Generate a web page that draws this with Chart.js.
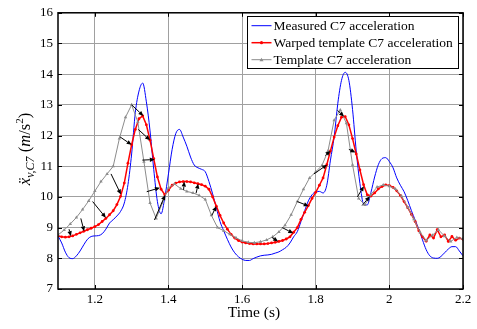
<!DOCTYPE html>
<html>
<head>
<meta charset="utf-8">
<script src="https://cdn.jsdelivr.net/npm/chart.js@4.4.1/dist/chart.umd.min.js"></script>
<style>
  html, body { margin: 0; padding: 0; background: #fff; }
  canvas { display: block; }
</style>
</head>
<body>
<canvas id="chart" width="477" height="329"></canvas>
<script>
// time base (s)
var tStart = 1.1;
var fineStep = 0.01;      // measured + warped samples
var templateStep = 1 / 60; // template samples

var xTickValues = [1.2, 1.4, 1.6, 1.8, 2.0, 2.2];
var yTickValues = [7, 8, 9, 10, 11, 12, 13, 14, 15, 16];

// C7 acceleration (m/s^2), 1.10 .. 2.20 s
var measured = [
  8.73, 8.5, 8.2, 8.02, 7.99, 8.08, 8.24, 8.44, 8.62, 8.71,
  8.73, 8.74, 8.8, 8.95, 9.15, 9.26, 9.38, 9.53, 9.8, 10.4,
  11.4, 12.75, 13.45, 13.71, 13.1, 12.15, 10.9, 9.85, 9.45, 9.98,
  10.75, 11.55, 12.07, 12.2, 11.95, 11.65, 11.3, 11.04, 10.95, 10.9,
  10.82, 10.5, 10.1, 9.65, 9.2, 8.9, 8.62, 8.37, 8.18, 8.05,
  7.97, 7.93, 7.93, 7.99, 8.04, 8.08, 8.1, 8.11, 8.13, 8.17,
  8.21, 8.28, 8.36, 8.5, 8.7, 8.87, 9.2, 9.55, 9.87, 10.07,
  10.17, 10.18, 10.13, 10.38, 11.2, 11.95, 13.05, 13.8, 14.06, 13.8,
  12.85, 11.5, 10.44, 9.77, 9.74, 10.15, 10.65, 11.05, 11.25, 11.28,
  11.15, 10.95, 10.62, 10.38, 10.17, 9.88, 9.55, 9.25, 8.95, 8.6,
  8.28, 8.08, 8.01, 8.0, 8.06, 8.18, 8.3, 8.38, 8.38, 8.24,
  8.08
];

var warped = [
  8.73, 8.7, 8.69, 8.7, 8.73, 8.78, 8.83, 8.88, 8.93, 8.98,
  9.03, 9.1, 9.2, 9.3, 9.42, 9.55, 9.75, 10.02, 10.45, 11.1,
  11.7, 12.2, 12.55, 12.64, 12.35, 11.85, 11.25, 10.65, 10.25, 10.07,
  10.22, 10.38, 10.45, 10.49, 10.5, 10.5, 10.49, 10.46, 10.43, 10.4,
  10.35, 10.25, 10.0, 9.7, 9.4, 9.15, 8.95, 8.78, 8.66, 8.58,
  8.53, 8.5, 8.48, 8.47, 8.47, 8.47, 8.47, 8.48, 8.5, 8.52,
  8.55, 8.58, 8.63, 8.7, 8.85, 9.0, 9.27, 9.5, 9.72, 9.95,
  10.15, 10.38, 10.62, 11.05, 11.5, 11.95, 12.32, 12.6, 12.62, 12.35,
  11.9, 11.4, 10.88, 10.4, 10.07, 10.03, 10.13, 10.26, 10.34, 10.39,
  10.37, 10.31, 10.2, 10.05, 9.85, 9.65, 9.43, 9.2, 8.9, 8.7,
  8.56, 8.76, 8.66, 8.93, 8.7, 8.76, 8.55, 8.71, 8.59, 8.66,
  8.62
];

var template = [
  8.76, 8.92, 9.12, 9.33, 9.59, 9.87, 10.19, 10.5, 10.75, 11.0,
  11.9, 12.6, 13.0, 12.45, 11.15, 9.8, 9.3, 9.8, 10.3, 10.42,
  10.27, 10.18, 10.13, 10.05, 9.92, 9.4, 9.0, 8.9, 8.78, 8.67,
  8.57, 8.52, 8.51, 8.54, 8.6, 8.7, 8.86, 9.08, 9.42, 9.85,
  10.25, 10.62, 10.82, 11.02, 11.5, 12.5, 12.83, 12.4, 11.05, 9.95,
  9.74, 10.08, 10.32, 10.39, 10.35, 10.26, 10.02, 9.66, 9.27, 8.85,
  8.58, 8.75, 8.93, 8.72, 8.55, 8.68, 8.64
];

// warping correspondences: template point -> warped point [t, a]
var arrowFrom = [
  [1.13, 8.95], [1.162, 9.3], [1.194, 9.85], [1.244, 10.75], [1.268, 11.96],
  [1.30, 13.0], [1.318, 12.2], [1.329, 11.2], [1.341, 10.17], [1.362, 9.25],
  [1.441, 10.23], [1.475, 10.12], [1.518, 9.4], [1.681, 8.68], [1.709, 9.0],
  [1.75, 9.85], [1.795, 10.75], [1.826, 11.35], [1.859, 12.82], [1.89, 11.55],
  [1.913, 10.0], [1.926, 9.72]
];
var arrowTo = [
  [1.135, 8.72], [1.171, 8.88], [1.23, 9.32], [1.271, 10.08], [1.30, 11.7],
  [1.332, 12.64], [1.35, 11.85], [1.363, 11.22], [1.377, 10.3], [1.391, 10.06],
  [1.443, 10.5], [1.481, 10.43], [1.53, 9.7], [1.698, 8.55], [1.739, 8.82],
  [1.781, 9.7], [1.831, 11.05], [1.84, 11.5], [1.877, 12.62], [1.908, 11.45],
  [1.931, 10.35], [1.947, 10.02]
];

var seriesNames = ['Measured C7 acceleration', 'Warped template C7 acceleration', 'Template C7 acceleration'];
var serif = '"Liberation Serif", "Times New Roman", "DejaVu Serif", serif';

function toPoints(values, step) {
  return values.map(function(v, i){ return { x: tStart + i * step, y: v }; });
}

// arrows between template and warped samples
var warpArrows = {
  id: 'warpArrows',
  afterDatasetsDraw: function(chart){
    var ctx = chart.ctx, xs = chart.scales.x, ys = chart.scales.y;
    ctx.save();
    ctx.strokeStyle = '#000';
    ctx.fillStyle = '#000';
    ctx.lineWidth = 1;
    arrowFrom.forEach(function(p, i){
      var q = arrowTo[i];
      var x1 = xs.getPixelForValue(p[0]), y1 = ys.getPixelForValue(p[1]);
      var x2 = xs.getPixelForValue(q[0]), y2 = ys.getPixelForValue(q[1]);
      var ang = Math.atan2(y2 - y1, x2 - x1);
      var len = 5, half = 2.2;
      var bx = x2 - len * Math.cos(ang), by = y2 - len * Math.sin(ang);
      ctx.beginPath();
      ctx.moveTo(x1, y1);
      ctx.lineTo(bx, by);
      ctx.stroke();
      ctx.beginPath();
      ctx.moveTo(x2, y2);
      ctx.lineTo(bx + half * Math.sin(ang), by - half * Math.cos(ang));
      ctx.lineTo(bx - half * Math.sin(ang), by + half * Math.cos(ang));
      ctx.closePath();
      ctx.fill();
    });
    ctx.restore();
  }
};

// box, inward ticks, legend and axis titles
var frameAndText = {
  id: 'frameAndText',
  afterDraw: function(chart){
    var ctx = chart.ctx, a = chart.chartArea, xs = chart.scales.x, ys = chart.scales.y;
    ctx.save();
    ctx.strokeStyle = '#000';
    ctx.lineWidth = 1;
    var tl = 4;
    xTickValues.forEach(function(v){
      var px = Math.round(xs.getPixelForValue(v)) + 0.5;
      ctx.beginPath();
      ctx.moveTo(px, a.bottom); ctx.lineTo(px, a.bottom - tl);
      ctx.moveTo(px, a.top); ctx.lineTo(px, a.top + tl);
      ctx.stroke();
    });
    yTickValues.forEach(function(v){
      var py = Math.round(ys.getPixelForValue(v)) + 0.5;
      ctx.beginPath();
      ctx.moveTo(a.left, py); ctx.lineTo(a.left + tl, py);
      ctx.moveTo(a.right, py); ctx.lineTo(a.right - tl, py);
      ctx.stroke();
    });
    ctx.lineWidth = 1.5;
    ctx.strokeRect(a.left, a.top, a.right - a.left, a.bottom - a.top);

    // legend
    var lx = 247.5, ly = 16.5, lw = 211, lh = 52;
    ctx.fillStyle = '#fff';
    ctx.fillRect(lx, ly, lw, lh);
    ctx.lineWidth = 1;
    ctx.strokeStyle = '#000';
    ctx.strokeRect(lx, ly, lw, lh);
    var rows = [25.7, 42.7, 59.7];
    var colors = ['#0000ff', '#ff0000', '#8c8c8c'];
    ctx.font = '13.5px ' + serif;
    ctx.textBaseline = 'middle';
    ctx.textAlign = 'left';
    rows.forEach(function(ry, i){
      ctx.strokeStyle = colors[i];
      ctx.lineWidth = i === 1 ? 1.5 : 1;
      ctx.beginPath();
      ctx.moveTo(251.5, ry); ctx.lineTo(271.5, ry);
      ctx.stroke();
      if (i === 1) {
        ctx.fillStyle = colors[i];
        ctx.beginPath(); ctx.arc(261.5, ry, 1.6, 0, Math.PI * 2); ctx.fill();
      } else if (i === 2) {
        ctx.fillStyle = colors[i];
        ctx.beginPath();
        ctx.moveTo(261.5, ry - 2); ctx.lineTo(263.5, ry + 1.5); ctx.lineTo(259.5, ry + 1.5);
        ctx.closePath(); ctx.fill();
      }
      ctx.fillStyle = '#000';
      ctx.fillText(seriesNames[i], 273.5, ry + 0.5);
    });

    // x title
    ctx.font = '15.5px ' + serif;
    ctx.textAlign = 'center';
    ctx.fillText('Time (s)', 254, 313);

    // y title
    var parts = [
      { s: '\u1E8D', f: 'italic 16.5px ', dy: 0 },
      { s: 'v,C7', f: 'italic 12px ', dy: 3.5 },
      { s: ' (', f: '16.5px ', dy: 0 },
      { s: 'm', f: 'italic 16.5px ', dy: 0 },
      { s: '/', f: '16.5px ', dy: 0 },
      { s: 's', f: '16.5px ', dy: 0 },
      { s: '2', f: '11px ', dy: -7 },
      { s: ')', f: '16.5px ', dy: 0 }
    ];
    var total = 0;
    parts.forEach(function(p){ ctx.font = p.f + serif; p.w = ctx.measureText(p.s).width; total += p.w; });
    ctx.translate(25, 149);
    ctx.rotate(-Math.PI / 2);
    ctx.textAlign = 'left';
    ctx.textBaseline = 'alphabetic';
    var cx = -total / 2;
    parts.forEach(function(p){
      ctx.font = p.f + serif;
      ctx.fillText(p.s, cx, 5 + p.dy);
      cx += p.w;
    });
    ctx.restore();
  }
};

var datos = {
  type: 'line',
  data: {
    datasets: [{
      label: seriesNames[0],
      data: toPoints(measured, fineStep),
      borderColor: '#0000ff',
      borderWidth: 1,
      pointRadius: 0,
      cubicInterpolationMode: 'monotone',
      order: 3
    }, {
      label: seriesNames[1],
      data: toPoints(warped, fineStep),
      borderColor: '#ff0000',
      backgroundColor: '#ff0000',
      borderWidth: 1.5,
      pointRadius: 1.4,
      pointBorderWidth: 0,
      order: 2
    }, {
      label: seriesNames[2],
      data: toPoints(template, templateStep),
      borderColor: '#8c8c8c',
      backgroundColor: '#8c8c8c',
      borderWidth: 1,
      pointStyle: 'triangle',
      pointRadius: 2,
      pointBorderWidth: 0,
      order: 1
    }]
  },
  options: {
    responsive: false,
    animation: false,
    layout: { padding: { top: 12, right: 14, left: 0, bottom: 0 } },
    plugins: { legend: { display: false }, tooltip: { enabled: false } },
    scales: {
      x: {
        type: 'linear',
        min: 1.1,
        max: 2.2,
        afterBuildTicks: function(s){ s.ticks = xTickValues.map(function(v){ return { value: v }; }); },
        afterFit: function(s){ s.height = 40; },
        grid: { color: '#a0a0a0', lineWidth: 1, drawTicks: false },
        border: { display: false },
        ticks: {
          padding: 3,
          color: '#000',
          font: { family: serif, size: 13 },
          maxRotation: 0,
          callback: function(v){ return String(Math.round(v * 10) / 10); }
        }
      },
      y: {
        min: 7,
        max: 16,
        afterBuildTicks: function(s){ s.ticks = yTickValues.map(function(v){ return { value: v }; }); },
        afterFit: function(s){ s.width = 58; },
        grid: { color: '#a0a0a0', lineWidth: 1, drawTicks: false },
        border: { display: false },
        ticks: {
          padding: 5,
          color: '#000',
          font: { family: serif, size: 13 }
        }
      }
    }
  },
  plugins: [warpArrows, frameAndText]
};

var canvas = document.getElementById('chart').getContext('2d');
window.grafico = new Chart(canvas, datos);
</script>
</body>
</html>
